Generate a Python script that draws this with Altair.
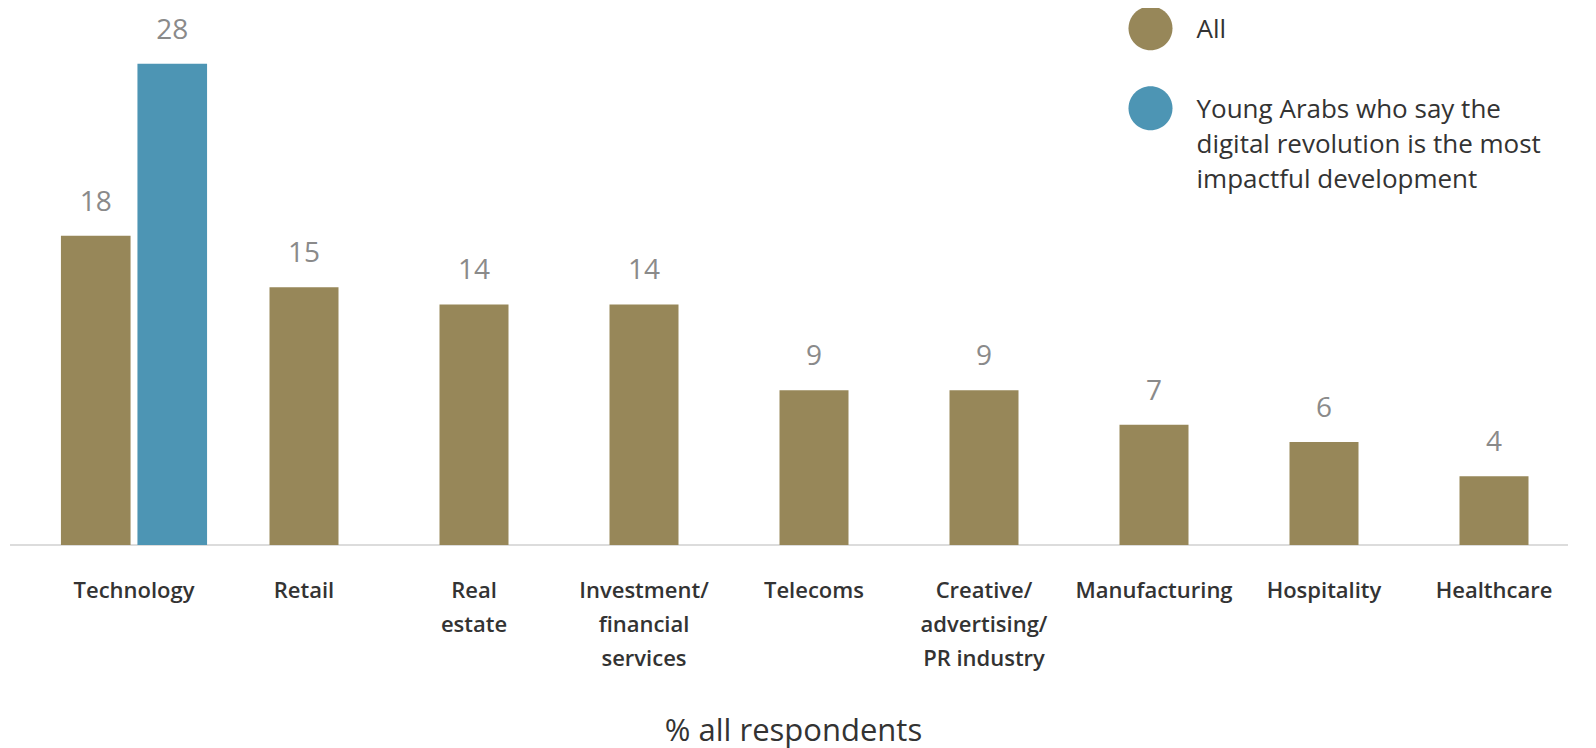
import altair as alt
import pandas as pd

categories = ["Technology", "Retail", "Real|estate", "Investment/|financial|services", "Telecoms",
              "Creative/|advertising/|PR industry", "Manufacturing", "Hospitality", "Healthcare"]
all_values = [18, 15, 14, 14, 9, 9, 7, 6, 4]
young_category = "Technology"
young_value = 28
series_names = ["All", "Young Arabs who say the|digital revolution is the most|impactful development"]
colors = ["#978759", "#4d95b4"]

rows = [{"category": c, "series": series_names[0], "value": v} for c, v in zip(categories, all_values)]
rows.append({"category": young_category, "series": series_names[1], "value": young_value})
df = pd.DataFrame(rows)

FONT = "Open Sans"
circle_path = "M -1 0.5 A 1 1 0 1 0 1 0.5 A 1 1 0 1 0 -1 0.5 Z"

x_enc = alt.X(
    "category:N",
    sort=categories,
    scale=alt.Scale(domain=categories, range=[39, 1569], paddingInner=0, paddingOuter=0),
    axis=alt.Axis(
        title="% all respondents",
        labelAngle=0,
        labelExpr="split(datum.label, '|')",
        labelFont=FONT,
        labelFontSize=22,
        labelFontWeight=600,
        labelColor="#333333",
        labelLineHeight=34,
        labelPadding=35,
        labelLimit=400,
        domain=False,
        ticks=False,
        tickSize=0,
        grid=False,
        titleFont=FONT,
        titleFontSize=31,
        titleFontWeight="normal",
        titleColor="#333333",
        titlePadding=47,
        titleX=783,
        titleAlign="center",
    ),
)
y_enc = alt.Y("value:Q", scale=alt.Scale(domain=[0, 31.25], nice=False, zero=True), axis=None)
color_enc = alt.Color(
    "series:N",
    scale=alt.Scale(domain=series_names, range=colors),
    legend=alt.Legend(
        title=None,
        orient="none",
        legendX=1118.5,
        legendY=-12.7,
        symbolType=circle_path,
        symbolSize=1936,
        symbolStrokeWidth=0,
        symbolOpacity=1,
        labelFont=FONT,
        labelFontSize=26,
        labelColor="#333333",
        labelBaseline="top",
        labelOffset=24,
        labelLimit=600,
        labelExpr="split(datum.label, '|')",
        rowPadding=25,
        padding=0,
    ),
)

base = alt.Chart(df)

baseline = alt.Chart(pd.DataFrame({"v": [0]})).mark_rule(color="#dcdcdc", strokeWidth=2).encode(
    y=alt.Y("v:Q", scale=alt.Scale(domain=[0, 31.25], nice=False), axis=None)
)

others = base.transform_filter(alt.datum.category != young_category)
tech = base.transform_filter(alt.datum.category == young_category)

offset_enc = alt.XOffset("series:N", sort=series_names,
                         scale=alt.Scale(domain=series_names, paddingInner=0.09, paddingOuter=0.156))

bars_others = others.mark_bar(width=69).encode(x=x_enc, y=y_enc, color=color_enc)
bars_tech = tech.mark_bar().encode(x=x_enc, y=y_enc, color=color_enc, xOffset=offset_enc)

text_style = dict(font=FONT, fontSize=28, color="#8a8a8a", baseline="alphabetic", dy=-25, align="center")
text_others = others.mark_text(**text_style).encode(x=x_enc, y=y_enc, text="value:Q")
text_tech = tech.mark_text(**text_style).encode(x=x_enc, y=y_enc, text="value:Q", xOffset=offset_enc)

chart = alt.layer(baseline, bars_others, bars_tech, text_others, text_tech).properties(
    width=1558,
    height=537,
    autosize=alt.AutoSizeParams(type="none"),
    padding={"left": 2, "top": 0, "right": 10, "bottom": 208},
).configure(
    style={"guide-label": {"lineHeight": 35}},
    view=alt.ViewConfig(stroke=None),
)

chart.save("out.html", embed_options={"renderer": "svg", "actions": False})
